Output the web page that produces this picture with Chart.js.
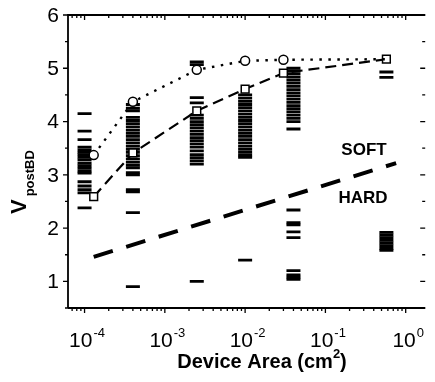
<!DOCTYPE html>
<html>
<head>
<meta charset="utf-8">
<script src="https://cdn.jsdelivr.net/npm/chart.js@4/dist/chart.umd.min.js"></script>
<style>html,body{margin:0;padding:0;background:#fff}</style>
</head>
<body>
<canvas id="myChart" width="435" height="382"></canvas>
<script>
// device areas (cm2) of the six test structures
const areas = [1e-4, 4e-4, 2.5e-3, 1e-2, 4e-2, 0.575]

// post-breakdown voltages read per device area
const col1 = [4.15, 3.82, 3.66, 3.52, 3.47, 3.42, 3.38, 3.33, 3.28, 3.22, 3.17, 3.12, 3.07, 3.03, 2.87, 2.79, 2.72, 2.66, 2.38]
const col2 = [4.32, 4.25, 4.2, 4.08, 4.02, 3.96, 3.9, 3.84, 3.78, 3.72, 3.66, 3.6, 3.54, 3.48, 3.42, 3.36, 3.3, 3.24, 3.18, 3.13, 3.04, 3.0, 2.72, 2.68, 2.29, 0.9]
const col3 = [5.12, 5.07, 4.45, 4.35, 4.12, 4.06, 4.0, 3.94, 3.88, 3.82, 3.76, 3.7, 3.64, 3.58, 3.52, 3.45, 3.38, 3.32, 3.26, 3.2, 1.0]
const col4 = [4.5, 4.44, 4.38, 4.32, 4.26, 4.2, 4.14, 4.08, 4.02, 3.96, 3.9, 3.84, 3.78, 3.72, 3.66, 3.6, 3.54, 3.48, 3.42, 3.37, 3.33, 1.4]
const col5 = [5.0, 4.95, 4.9, 4.84, 4.78, 4.72, 4.66, 4.6, 4.54, 4.48, 4.42, 4.36, 4.3, 4.24, 4.18, 4.12, 4.06, 4.0, 3.86, 2.34, 2.1, 2.06, 1.93, 1.82, 1.2, 1.12, 1.08, 1.04]
const col6 = [4.93, 4.83, 1.92, 1.87, 1.82, 1.77, 1.72, 1.67, 1.62, 1.58]
const columns = [col1, col2, col3, col4, col5, col6]

// max (circles) and median (squares) curves
const lineX = [1.3e-4, 4e-4, 2.5e-3, 1e-2, 3e-2, 0.575]
const maxV = [3.37, 4.37, 4.97, 5.14, 5.16, 5.17]
const medV = [2.59, 3.41, 4.2, 4.61, 4.91, 5.17]

// soft / hard boundary
const borderX = [1.3e-4, 0.76]
const borderV = [1.46, 3.22]

const xExp = [-4, -3, -2, -1, 0]
const yTicks = [1, 2, 3, 4, 5, 6]

const font = '"Liberation Sans", Arial, Helvetica, sans-serif'

const pts = (xs, ys) => ys.map((v, i) => ({x: xs[i], y: v}))

const dashSets = columns.map((col, i) => ({
    type: 'scatter',
    data: col.map(v => ({x: areas[i], y: v})),
    pointStyle: 'line',
    radius: 7,
    borderWidth: 2.8,
    borderColor: '#000',
    backgroundColor: '#000'
}))

const frame = {
    id: 'frame',
    afterDraw(chart) {
        const {ctx, chartArea: a, scales: {x, y}} = chart
        ctx.save()
        ctx.strokeStyle = '#000'
        ctx.fillStyle = '#000'
        ctx.lineWidth = 1.8
        ctx.beginPath()
        ctx.moveTo(a.left, a.bottom)
        ctx.lineTo(a.left, a.top)
        ctx.lineTo(a.right, a.top)
        ctx.moveTo(a.left, a.bottom)
        ctx.lineTo(a.right, a.bottom)
        ctx.stroke()

        ctx.lineWidth = 1.3
        ctx.beginPath()
        for (let e = -5; e <= 0; e++) {
            for (let k = 1; k < 10; k++) {
                const v = k * Math.pow(10, e)
                if (v < x.min || v > x.max) continue
                const px = x.getPixelForValue(v)
                const len = k === 1 ? 5 : 3
                ctx.moveTo(px, a.bottom); ctx.lineTo(px, a.bottom + len)
                ctx.moveTo(px, a.top); ctx.lineTo(px, a.top + len)
            }
        }
        for (let v = 0.5; v <= 6; v += 0.5) {
            const py = y.getPixelForValue(v)
            const len = Number.isInteger(v) ? 5 : 3
            ctx.moveTo(a.left, py); ctx.lineTo(a.left - len, py)
            ctx.moveTo(a.right, py); ctx.lineTo(a.right - len, py)
        }
        ctx.stroke()

        // y tick labels
        ctx.font = '21px ' + font
        ctx.textAlign = 'right'
        ctx.textBaseline = 'middle'
        yTicks.forEach(v => ctx.fillText(String(v), a.left - 9, y.getPixelForValue(v) + 1))

        // x tick labels 10^n
        ctx.textBaseline = 'alphabetic'
        ctx.textAlign = 'left'
        xExp.forEach(e => {
            const px = x.getPixelForValue(Math.pow(10, e))
            ctx.font = '21px ' + font
            const wb = ctx.measureText('10').width
            const sup = e === 0 ? '0' : '-' + Math.abs(e)
            ctx.font = '13px ' + font
            const ws = ctx.measureText(sup).width
            const x0 = px + 2 - (wb + ws) / 2
            ctx.font = '21px ' + font
            ctx.fillText('10', x0, 347)
            ctx.font = '13px ' + font
            ctx.fillText(sup, x0 + wb + 1, 337)
        })

        // x title
        ctx.font = 'bold 20px ' + font
        const t = 'Device Area (cm'
        const w1 = ctx.measureText(t).width
        ctx.font = 'bold 13px ' + font
        const w2 = ctx.measureText('2').width
        ctx.font = 'bold 20px ' + font
        const w3 = ctx.measureText(')').width
        const tx = 262 - (w1 + w2 + w3) / 2
        ctx.fillText(t, tx, 368)
        ctx.font = 'bold 13px ' + font
        ctx.fillText('2', tx + w1, 358)
        ctx.font = 'bold 20px ' + font
        ctx.fillText(')', tx + w1 + w2, 368)

        // y title V_postBD
        ctx.save()
        ctx.translate(26, 214)
        ctx.rotate(-Math.PI / 2)
        ctx.font = 'bold 22px ' + font
        ctx.fillText('V', 0, 0)
        const vw = ctx.measureText('V').width
        ctx.font = 'bold 13px ' + font
        ctx.fillText('postBD', vw + 3, 8)
        ctx.restore()

        // region labels
        ctx.font = 'bold 17px ' + font
        ctx.textAlign = 'center'
        ctx.fillText('SOFT', 364, 155)
        ctx.fillText('HARD', 363, 203)
        ctx.restore()
    }
}

const ctx = document.getElementById('myChart')
const myChart = new Chart(ctx, {
    data: {
        datasets: [
            {
                type: 'line',
                data: pts(lineX, maxV),
                borderColor: '#000',
                borderWidth: 2.4,
                borderDash: [2.5, 6.5],
                pointStyle: 'circle',
                pointRadius: [4.5, 4.5, 4.5, 4.5, 4.5, 0],
                pointBorderWidth: 1.5,
                pointBackgroundColor: '#fff',
                pointBorderColor: '#000',
                tension: 0
            },
            {
                type: 'line',
                data: pts(lineX, medV),
                borderColor: '#000',
                borderWidth: 2.2,
                borderDash: [11, 6],
                pointStyle: 'rect',
                pointRadius: 5.5,
                pointBorderWidth: 1.5,
                pointBackgroundColor: '#fff',
                pointBorderColor: '#000',
                tension: 0
            },
            {
                type: 'line',
                data: pts(borderX, borderV),
                borderColor: '#000',
                borderWidth: 4,
                borderDash: [20, 14],
                pointRadius: 0
            },
            ...dashSets
        ]
    },
    options: {
        responsive: false,
        animation: false,
        devicePixelRatio: 1,
        layout: {
            padding: {left: 68, top: 15, right: 0, bottom: 74}
        },
        scales: {
            x: {type: 'logarithmic', min: 6.22e-5, max: 1.75, display: false},
            y: {type: 'linear', min: 0.5, max: 6, display: false}
        },
        plugins: {
            legend: {display: false},
            tooltip: {enabled: false}
        }
    },
    plugins: [frame]
})
</script>
</body>
</html>
